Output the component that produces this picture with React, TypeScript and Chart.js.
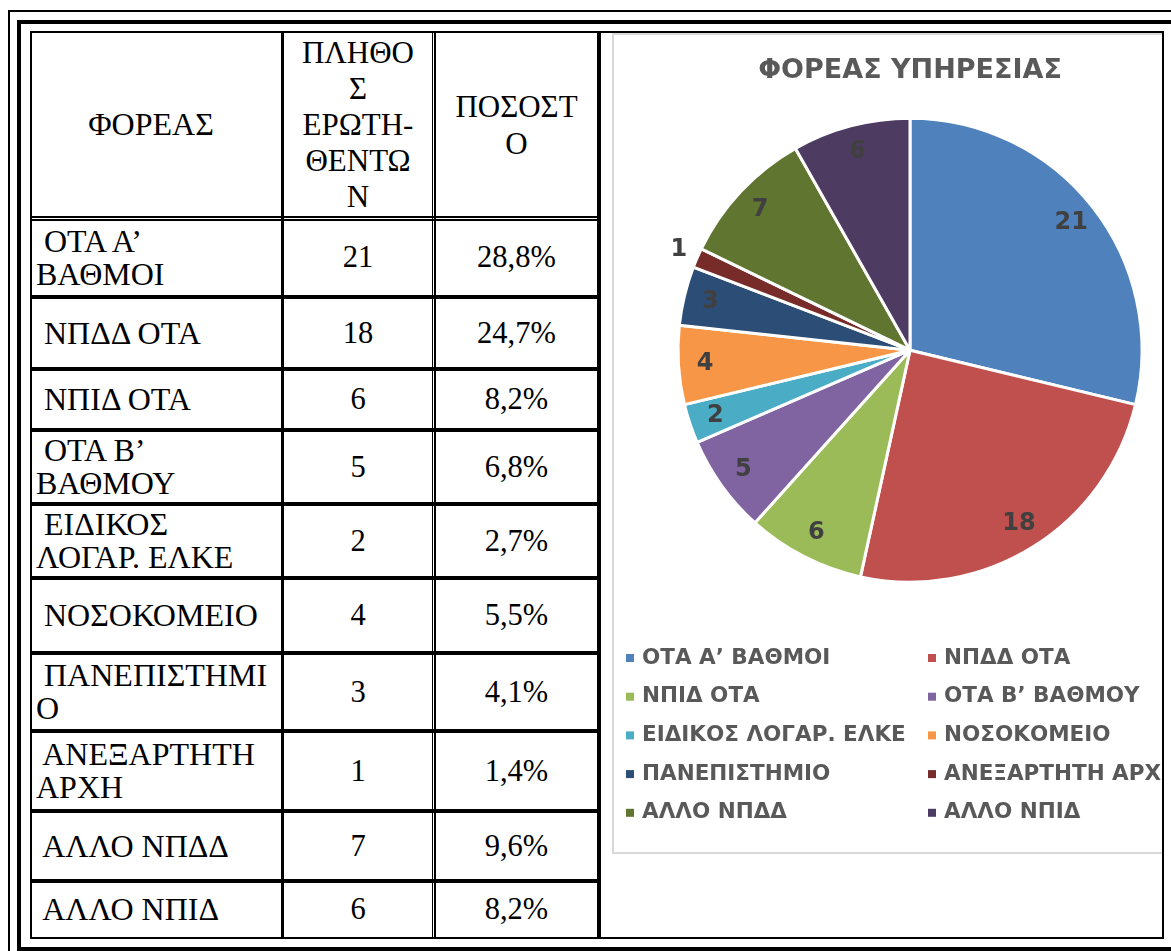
import React, { useEffect, useRef } from "react";
import { Chart, registerables } from "chart.js";

Chart.register(...registerables);

// ---------- DATA ----------
const categories = [
  "ΟΤΑ Α’ ΒΑΘΜΟΙ",
  "ΝΠΔΔ ΟΤΑ",
  "ΝΠΙΔ ΟΤΑ",
  "ΟΤΑ Β’ ΒΑΘΜΟΥ",
  "ΕΙΔΙΚΟΣ ΛΟΓΑΡ. ΕΛΚΕ",
  "ΝΟΣΟΚΟΜΕΙΟ",
  "ΠΑΝΕΠΙΣΤΗΜΙΟ",
  "ΑΝΕΞΑΡΤΗΤΗ ΑΡΧΗ",
  "ΑΛΛΟ ΝΠΔΔ",
  "ΑΛΛΟ ΝΠΙΔ",
];
const tableLabels = [
  " ΟΤΑ Α’\nΒΑΘΜΟΙ",
  " ΝΠΔΔ ΟΤΑ",
  " ΝΠΙΔ ΟΤΑ",
  " ΟΤΑ Β’\nΒΑΘΜΟΥ",
  " ΕΙΔΙΚΟΣ\nΛΟΓΑΡ. ΕΛΚΕ",
  " ΝΟΣΟΚΟΜΕΙΟ",
  " ΠΑΝΕΠΙΣΤΗΜΙ\nΟ",
  " ΑΝΕΞΑΡΤΗΤΗ\nΑΡΧΗ",
  " ΑΛΛΟ ΝΠΔΔ",
  " ΑΛΛΟ ΝΠΙΔ",
];
const counts = [21, 18, 6, 5, 2, 4, 3, 1, 7, 6];
const percents = ["28,8%", "24,7%", "8,2%", "6,8%", "2,7%", "5,5%", "4,1%", "1,4%", "9,6%", "8,2%"];
const headers = ["ΦΟΡΕΑΣ", "ΠΛΗΘΟ\nΣ\nΕΡΩΤΗ-\nΘΕΝΤΩ\nΝ", "ΠΟΣΟΣΤ\nΟ"];
const chartTitle = "ΦΟΡΕΑΣ ΥΠΗΡΕΣΙΑΣ";
const sliceColors = [
  "#4F81BD",
  "#C0504D",
  "#9BBB59",
  "#8064A2",
  "#4BACC6",
  "#F79646",
  "#2C4D75",
  "#772C2A",
  "#5F7530",
  "#4D3B62",
];

// ---------- LAYOUT ----------
const rowLines = [32, 218, 297, 369, 430, 504, 578, 653, 731, 811, 881, 938];
const colLines = [31, 282, 433, 599];

const sliceLabelPlugin = {
  id: "sliceLabels",
  afterDatasetsDraw(chart: any) {
    const ctx = chart.ctx;
    const meta = chart.getDatasetMeta(0);
    const values = chart.data.datasets[0].data;
    ctx.save();
    ctx.font = 'bold 24px "DejaVu Sans"';
    ctx.fillStyle = "#404040";
    ctx.textAlign = "center";
    ctx.textBaseline = "middle";
    meta.data.forEach((arc: any, i: number) => {
      const p = arc.getProps(["x", "y", "startAngle", "endAngle", "outerRadius"], true);
      const mid = (p.startAngle + p.endAngle) / 2;
      const span = p.endAngle - p.startAngle;
      const r = span < 0.1 ? p.outerRadius + 20 : p.outerRadius * 0.885;
      ctx.fillText(String(values[i]), p.x + Math.cos(mid) * r, p.y + Math.sin(mid) * r);
    });
    ctx.restore();
  },
};

const gridLegendPlugin = {
  id: "gridLegend",
  afterDraw(chart: any) {
    const ctx = chart.ctx;
    const labels = chart.data.labels as string[];
    const colors = chart.data.datasets[0].backgroundColor as string[];
    ctx.save();
    ctx.font = 'bold 21.5px "DejaVu Sans"';
    ctx.textAlign = "left";
    ctx.textBaseline = "middle";
    labels.forEach((lab, i) => {
      const col = i % 2;
      const row = Math.floor(i / 2);
      const bx = col === 0 ? 12 : 314;
      const cy = 623 + row * 38.7;
      ctx.fillStyle = colors[i];
      ctx.fillRect(bx, cy - 4, 8, 8);
      ctx.fillStyle = "#595959";
      ctx.fillText(lab, bx + 16, cy);
    });
    ctx.restore();
  },
};

function Line({ x, y, w, h }: { x: number; y: number; w: number; h: number }) {
  return <div style={{ position: "absolute", left: x, top: y, width: w, height: h, background: "#000" }} />;
}

export default function App() {
  const ref = useRef<HTMLCanvasElement>(null);

  useEffect(() => {
    if (!ref.current) return;
    const chart = new Chart(ref.current, {
      type: "pie",
      data: {
        labels: categories,
        datasets: [
          {
            data: counts,
            backgroundColor: sliceColors,
            borderColor: "#ffffff",
            borderWidth: 3,
            radius: 232,
          } as any,
        ],
      },
      options: {
        responsive: false,
        animation: false,
        layout: { padding: { left: 0, right: 4, top: 0, bottom: 250 } },
        plugins: {
          legend: { display: false },
          tooltip: { enabled: false },
          title: {
            display: true,
            text: chartTitle,
            color: "#595959",
            font: { family: "DejaVu Sans", size: 27, weight: "bold" },
            padding: { top: 20, bottom: 11 },
          },
        },
      },
      plugins: [sliceLabelPlugin, gridLegendPlugin],
    });
    return () => chart.destroy();
  }, []);

  const serif = "'Liberation Serif', 'Times New Roman', serif";
  const cellText: React.CSSProperties = {
    fontFamily: serif,
    fontSize: 30.5,
    lineHeight: "33px",
    whiteSpace: "pre",
    color: "#000",
  };

  const lines: JSX.Element[] = [];
  // outer thin frame
  lines.push(<Line key="ot" x={8} y={10} w={1200} h={2} />);
  lines.push(<Line key="ol" x={8} y={10} w={2} h={1000} />);
  // thick frame
  lines.push(<Line key="tt" x={17} y={20} w={1200} h={4} />);
  lines.push(<Line key="tl" x={17} y={20} w={4} h={1000} />);
  lines.push(<Line key="tb" x={17} y={947} w={1200} h={4} />);
  // inner table borders
  lines.push(<Line key="it" x={30} y={31} w={1134} h={2} />);
  lines.push(<Line key="ib" x={30} y={937} w={1134} h={2} />);
  lines.push(<Line key="il" x={30} y={31} w={2} h={908} />);
  lines.push(<Line key="ir" x={1162} y={31} w={2} h={908} />);
  lines.push(<Line key="c1" x={281} y={31} w={3} h={908} />);
  lines.push(<Line key="c2a" x={432} y={31} w={1} h={908} />);
  lines.push(<Line key="c2b" x={434} y={31} w={2} h={908} />);
  lines.push(<Line key="c3" x={597} y={31} w={4} h={908} />);
  // header double line
  lines.push(<Line key="hd1" x={30} y={216} w={570} h={2} />);
  lines.push(<Line key="hd2" x={30} y={219} w={570} h={2} />);
  for (let i = 2; i < rowLines.length - 1; i++) {
    lines.push(<Line key={"r" + i} x={30} y={rowLines[i] - 2} w={570} h={4} />);
  }

  const cells: JSX.Element[] = [];
  // header
  headers.forEach((h, c) => {
    const left = colLines[c] + 3;
    const right = colLines[c + 1] - 2;
    cells.push(
      <div
        key={"h" + c}
        style={{
          position: "absolute",
          left,
          top: 33,
          width: right - left,
          height: 216 - 33,
          display: "flex",
          alignItems: "center",
          justifyContent: "center",
          textAlign: "center",
          paddingRight: c === 0 ? 12 : 0,
          boxSizing: "border-box",
        }}
      >
        <div style={{ ...cellText, fontSize: c === 0 ? 32 : 31, lineHeight: c === 1 ? "36px" : "37px" }}>{h}</div>
      </div>
    );
  });
  tableLabels.forEach((lab, r) => {
    const top = rowLines[r + 1] + 2;
    const bottom = rowLines[r + 2] - 2;
    const vals = [lab, String(counts[r]), percents[r]];
    vals.forEach((v, c) => {
      const left = colLines[c] + 3;
      const right = colLines[c + 1] - 2;
      cells.push(
        <div
          key={"c" + r + "_" + c}
          style={{
            position: "absolute",
            left,
            top,
            width: right - left,
            height: bottom - top,
            display: "flex",
            alignItems: "center",
            justifyContent: c === 0 ? "flex-start" : "center",
            paddingLeft: c === 0 ? 2 : 0,
            boxSizing: "border-box",
          }}
        >
          <div style={{ ...cellText, fontSize: c === 0 ? 32 : 30.5 }}>{v}</div>
        </div>
      );
    });
  });

  return (
    <div
      style={{
        position: "fixed",
        left: 0,
        top: 0,
        width: "100vw",
        height: "100vh",
        overflow: "hidden",
        background: "#fff",
      }}
    >
      {cells}
      <div
        style={{
          position: "absolute",
          left: 601,
          top: 33,
          width: 561,
          height: 904,
          overflow: "hidden",
        }}
      >
        <div
          style={{
            position: "absolute",
            left: 11,
            top: 0,
            width: 600,
            height: 821,
            border: "2px solid #d9d9d9",
            boxSizing: "border-box",
            background: "#fff",
          }}
        >
          <canvas ref={ref} width={596} height={817} style={{ display: "block", width: 596, height: 817 }} />
        </div>
      </div>
      {lines}
    </div>
  );
}
